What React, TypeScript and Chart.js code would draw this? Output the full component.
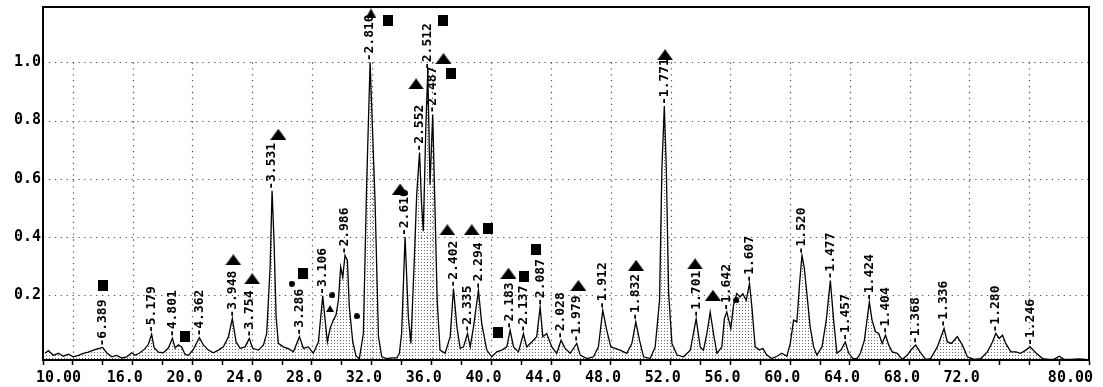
import { useEffect, useRef } from 'react';
import { Chart, registerables } from 'chart.js';

Chart.register(...registerables);

// Diffraction profile: 2θ (deg) and relative intensity
const twoTheta: number[] = [
  10.13, 10.36, 10.69, 11.03, 11.36, 11.7, 12.03, 12.37, 12.7, 13.03, 13.37, 13.7, 13.99, 14.26, 14.6, 14.93,
  15.27, 15.6, 15.93, 16.16, 16.49, 16.83, 17.05, 17.27, 17.43, 17.72, 18.05, 18.39, 18.66, 18.84, 19.06, 19.28,
  19.5, 19.73, 20.06, 20.46, 20.73, 21.07, 21.4, 21.74, 22.07, 22.41, 22.67, 22.92, 23.19, 23.52, 23.81, 24.03,
  24.41, 24.75, 24.97, 25.2, 25.33, 25.46, 25.6, 25.75, 26.09, 26.42, 26.76, 27.16, 27.43, 27.76, 28.09, 28.43,
  28.72, 28.88, 29.03, 29.21, 29.43, 29.61, 29.77, 29.92, 30.06, 30.21, 30.37, 30.5, 30.73, 30.95, 31.17, 31.44,
  31.66, 31.89, 32.22, 32.45, 32.67, 33.0, 33.34, 33.67, 33.85, 34.0, 34.23, 34.45, 34.62, 34.83, 35.01, 35.2,
  35.33, 35.45, 35.62, 35.75, 35.9, 36.08, 36.22, 36.38, 36.57, 36.91, 37.25, 37.47, 37.7, 37.92, 38.14, 38.41,
  38.59, 38.81, 39.14, 39.36, 39.7, 40.03, 40.37, 40.7, 41.04, 41.26, 41.49, 41.82, 42.15, 42.37, 42.71, 43.04,
  43.27, 43.45, 43.71, 44.05, 44.38, 44.67, 44.94, 45.28, 45.72, 45.95, 46.39, 46.84, 47.17, 47.46, 47.73, 48.0,
  48.29, 48.62, 49.07, 49.41, 49.67, 49.92, 50.19, 50.63, 50.97, 51.26, 51.42, 51.58, 51.71, 51.87, 52.09, 52.43,
  52.87, 53.32, 53.71, 53.98, 54.2, 54.43, 54.65, 54.87, 55.1, 55.43, 55.6, 55.76, 56.03, 56.21, 56.43, 56.65,
  56.83, 57.06, 57.28, 57.44, 57.66, 57.95, 58.17, 58.44, 58.78, 59.11, 59.45, 59.78, 60.01, 60.23, 60.45, 60.63,
  60.79, 60.94, 61.12, 61.34, 61.57, 61.79, 62.13, 62.42, 62.69, 62.91, 63.13, 63.4, 63.69, 63.92, 64.21, 64.48,
  64.7, 64.97, 65.3, 65.48, 65.71, 65.93, 66.16, 66.38, 66.6, 66.83, 67.17, 67.5, 67.84, 68.11, 68.4, 68.69,
  69.07, 69.4, 69.85, 70.3, 70.52, 70.79, 71.19, 71.53, 71.86, 72.31, 72.76, 73.2, 73.54, 73.76, 73.99, 74.21,
  74.43, 74.77, 75.1, 75.44, 75.77, 76.06, 76.44, 76.89, 77.33, 77.67, 78.01, 78.34, 78.79, 79.35, 79.79,
];
const intensity: number[] = [
  0.001, 0.01, -0.006, 0.001, -0.009, -0.002, -0.011, -0.006, 0.001, 0.005, 0.012, 0.017, 0.021, 0.003, -0.011, -0.006,
  -0.015, -0.011, 0.003, -0.006, 0.003, 0.017, 0.032, 0.067, 0.021, 0.005, 0.003, 0.019, 0.053, 0.019, 0.03, 0.023,
  -0.002, -0.006, 0.014, 0.055, 0.03, 0.012, 0.003, 0.012, 0.023, 0.058, 0.12, 0.04, 0.018, 0.023, 0.052, 0.018,
  0.012, 0.029, 0.069, 0.297, 0.559, 0.388, 0.126, 0.035, 0.023, 0.017, 0.006, 0.058, 0.018, 0.023, 0.001, 0.04,
  0.198, 0.115, 0.04, 0.086, 0.115, 0.132, 0.183, 0.297, 0.263, 0.337, 0.32, 0.16, 0.04, -0.009, -0.017, 0.069,
  0.582, 1.0, 0.525, 0.058, -0.011, -0.017, -0.015, -0.015, 0.001, 0.069, 0.4, 0.126, 0.035, 0.297, 0.548, 0.69,
  0.52, 0.42, 0.776, 0.97, 0.58, 0.821, 0.525, 0.183, 0.012, 0.001, 0.058, 0.223, 0.092, 0.018, 0.023, 0.069,
  0.023, 0.092, 0.217, 0.103, 0.012, -0.011, 0.006, 0.012, 0.023, 0.08, 0.023, 0.006, 0.069, 0.023, 0.04, 0.058,
  0.16, 0.058, 0.069, 0.023, 0.001, 0.046, 0.018, 0.001, 0.035, -0.005, -0.017, -0.011, 0.023, 0.149, 0.08, 0.023,
  0.018, 0.012, 0.001, 0.035, 0.109, 0.046, -0.011, -0.017, 0.023, 0.183, 0.639, 0.85, 0.639, 0.206, 0.035, -0.005,
  -0.011, 0.012, 0.12, 0.023, 0.012, 0.069, 0.143, 0.069, 0.001, 0.023, 0.12, 0.143, 0.086, 0.166, 0.206, 0.194,
  0.206, 0.183, 0.24, 0.16, 0.023, 0.012, 0.018, -0.005, -0.017, -0.009, 0.001, -0.009, 0.035, 0.115, 0.109, 0.24,
  0.337, 0.297, 0.206, 0.092, 0.023, -0.005, 0.023, 0.115, 0.251, 0.115, 0.001, 0.012, 0.04, 0.001, -0.017, -0.017,
  0.001, 0.046, 0.177, 0.115, 0.075, 0.069, 0.035, 0.063, 0.029, 0.006, 0.001, -0.02, -0.005, 0.014, 0.029, 0.006,
  -0.02, -0.017, 0.023, 0.086, 0.04, 0.035, 0.058, 0.029, -0.011, -0.02, -0.017, 0.006, 0.04, 0.069, 0.052, 0.063,
  0.035, 0.006, 0.006, 0.001, 0.012, 0.023, 0.003, -0.017, -0.02, -0.019, -0.009, -0.02, -0.02, -0.018, -0.02,
];

// Indexed peaks: d-spacing (Å) and the peak top they mark
const peakD: string[] = [
  '6.389', '5.179', '4.801', '4.362', '3.948', '3.754', '3.531', '3.286', '3.106', '2.986',
  '2.810', '2.616', '2.552', '2.512', '2.487', '2.402', '2.335', '2.294', '2.183', '2.137',
  '2.087', '2.028', '1.979', '1.912', '1.832', '1.771', '1.701', '1.642', '1.607', '1.520',
  '1.477', '1.457', '1.424', '1.404', '1.368', '1.336', '1.280', '1.246',
];
const peakTheta: number[] = [
  13.99, 17.27, 18.66, 20.46, 22.67, 23.81, 25.33, 27.16, 28.72, 30.21,
  31.89, 34.23, 35.2, 35.75, 36.08, 37.47, 38.41, 39.14, 41.26, 42.15,
  43.27, 44.67, 45.72, 47.46, 49.67, 51.58, 53.71, 55.76, 57.28, 60.79,
  62.69, 63.69, 65.3, 66.38, 68.4, 70.3, 73.76, 76.06,
];
const peakI: number[] = [
  0.021, 0.067, 0.053, 0.055, 0.12, 0.052, 0.559, 0.058, 0.198, 0.337,
  1.0, 0.4, 0.69, 0.97, 0.821, 0.223, 0.069, 0.217, 0.08, 0.069,
  0.16, 0.046, 0.035, 0.149, 0.109, 0.85, 0.12, 0.143, 0.24, 0.337,
  0.251, 0.04, 0.177, 0.063, 0.029, 0.086, 0.069, 0.023,
];

// Phase symbols: ▲ triangle, ■ square, ● dot
const markerTheta: number[] = [
  14.04, 19.5, 22.74, 24.0, 25.75, 26.65, 27.38, 29.21, 29.36, 31.0,
  31.95, 33.07, 33.9, 34.97, 36.75, 36.8, 37.31, 37.06, 38.69, 39.77,
  40.48, 41.15, 42.22, 42.98, 45.83, 49.69, 51.63, 53.64, 54.83, 56.4,
];
const markerI: number[] = [
  0.234, 0.057, 0.322, 0.257, 0.753, 0.24, 0.276, 0.155, 0.2, 0.128,
  1.168, 1.142, 0.565, 0.926, 1.142, 1.013, 0.96, 0.425, 0.425, 0.428,
  0.071, 0.276, 0.265, 0.356, 0.234, 0.303, 1.026, 0.308, 0.2, 0.183,
];
const markerKind: string[] = [
  'sq', 'sq', 'tri', 'tri', 'tri', 'dot', 'sq', 'triS', 'dot', 'dot',
  'triM', 'sq', 'tri', 'tri', 'sq', 'tri', 'sq', 'tri', 'tri', 'sq',
  'sq', 'tri', 'sq', 'sq', 'tri', 'tri', 'tri', 'tri', 'tri', 'dot',
];

// Axis ticks and labels
const tickTheta: number[] = [
  10, 12, 14, 16, 18, 20, 22, 24, 26, 28, 30, 32, 34, 36, 38, 40, 42, 44,
  46, 48, 50, 52, 54, 56, 58, 60, 62, 64, 66, 68, 70, 72, 74, 76, 78, 80,
];
const xLabelAt: number[] = [14, 18, 22, 26, 30, 34, 38, 42, 46, 50, 54, 58, 62, 66, 70];
const xLabelText: string[] = [
  '16.0', '20.0', '24.0', '28.0', '32.0', '36.0', '40.0', '44.0',
  '48.0', '52.0', '56.0', '60.0', '64.0', '68.0', '72.0',
];
const xStartText = '10.00';
const xEndText = '80.00';
const gridTheta: number[] = [12, 16, 20, 24, 28, 32, 36, 40, 44, 48, 52, 56, 60, 64, 68, 72, 76];
const yTickValues: number[] = [0.2, 0.4, 0.6, 0.8, 1.0];

const FONT = '"DejaVu Sans Mono", "Liberation Mono", monospace';

function makeMarker(kind: string): HTMLCanvasElement {
  const c = document.createElement('canvas');
  const sizes: Record<string, [number, number]> = {
    tri: [16, 11],
    triM: [11, 10],
    triS: [8, 7],
    sq: [10, 11],
    dot: [6, 6],
  };
  const [w, h] = sizes[kind];
  c.width = w;
  c.height = h;
  const g = c.getContext('2d')!;
  g.fillStyle = '#000';
  g.beginPath();
  if (kind === 'sq') {
    g.rect(0, 0, w, h);
  } else if (kind === 'dot') {
    g.arc(w / 2, h / 2, w / 2, 0, Math.PI * 2);
  } else {
    g.moveTo(0, h);
    g.lineTo(w / 2, 0);
    g.lineTo(w, h);
    g.closePath();
  }
  g.fill();
  return c;
}

const xrdDecor = {
  id: 'xrdDecor',
  beforeDatasetsDraw(chart: any) {
    const { ctx, chartArea: a, scales } = chart;
    const x = scales.x;
    const y = scales.y;
    ctx.save();
    ctx.strokeStyle = '#555';
    ctx.lineWidth = 1.2;
    ctx.setLineDash([1.3, 4.6]);
    ctx.beginPath();
    yTickValues.forEach((v) => {
      const py = Math.round(y.getPixelForValue(v)) + 0.5;
      ctx.moveTo(a.left, py);
      ctx.lineTo(a.right, py);
    });
    const top = y.getPixelForValue(1.0);
    gridTheta.forEach((t) => {
      const px = Math.round(x.getPixelForValue(t)) + 0.5;
      ctx.moveTo(px, top);
      ctx.lineTo(px, a.bottom);
    });
    ctx.stroke();
    ctx.restore();
  },
  afterDatasetsDraw(chart: any) {
    const { ctx, chartArea: a, scales } = chart;
    const x = scales.x;
    const y = scales.y;
    ctx.save();
    // plot frame
    ctx.strokeStyle = '#000';
    ctx.lineWidth = 2;
    ctx.setLineDash([]);
    ctx.strokeRect(a.left, a.top, a.right - a.left, a.bottom - a.top);

    // d-spacing labels, written upward from each peak top
    ctx.fillStyle = '#000';
    ctx.font = `bold 13px ${FONT}`;
    ctx.textAlign = 'left';
    ctx.textBaseline = 'middle';
    peakD.forEach((d, i) => {
      const px = x.getPixelForValue(peakTheta[i]);
      const py = y.getPixelForValue(peakI[i]);
      ctx.save();
      ctx.translate(px, py - 1);
      ctx.rotate(-Math.PI / 2);
      ctx.fillText('-' + d, 0, 0);
      ctx.restore();
    });

    // range end labels on the 2θ axis
    ctx.font = `bold 15px ${FONT}`;
    ctx.textBaseline = 'middle';
    ctx.textAlign = 'left';
    ctx.fillText(xStartText, x.getPixelForValue(10) - 7, a.bottom + 18);
    ctx.textAlign = 'right';
    ctx.fillText(xEndText, x.getPixelForValue(80) + 4, a.bottom + 18);
    ctx.restore();
  },
};

export default function App() {
  const ref = useRef<HTMLCanvasElement>(null);

  useEffect(() => {
    const canvas = ref.current;
    if (!canvas) return;

    const dotCell = document.createElement('canvas');
    dotCell.width = 3;
    dotCell.height = 3;
    const dg = dotCell.getContext('2d')!;
    dg.fillStyle = '#6a6a6a';
    dg.fillRect(1, 1, 1, 1);
    const stipple = canvas.getContext('2d')!.createPattern(dotCell, 'repeat');

    const markerImg: Record<string, HTMLCanvasElement> = {
      tri: makeMarker('tri'),
      triM: makeMarker('triM'),
      triS: makeMarker('triS'),
      sq: makeMarker('sq'),
      dot: makeMarker('dot'),
    };

    const profile = twoTheta.map((t, i) => ({ x: t, y: intensity[i] }));
    const markers = markerTheta.map((t, i) => ({ x: t, y: markerI[i] }));

    const tickFont = { family: FONT, size: 15, weight: 'bold' as const };

    const chart = new Chart(canvas, {
      type: 'line',
      data: {
        datasets: [
          {
            data: profile,
            borderColor: '#000',
            borderWidth: 1.3,
            pointRadius: 0,
            tension: 0,
            fill: 'start',
            backgroundColor: stipple as any,
            order: 2,
          },
          {
            type: 'scatter',
            data: markers,
            pointStyle: (c: any) => markerImg[markerKind[c.dataIndex]] as any,
            pointRadius: 6,
            showLine: false,
            order: 1,
          } as any,
        ],
      },
      options: {
        animation: false,
        responsive: true,
        maintainAspectRatio: false,
        layout: { padding: { top: 5, right: 14, left: 0, bottom: 0 } },
        plugins: { legend: { display: false }, tooltip: { enabled: false } },
        scales: {
          x: {
            type: 'linear',
            min: 10,
            max: 80,
            afterBuildTicks: (s: any) => {
              s.ticks = tickTheta.map((v) => ({ value: v }));
            },
            afterFit: (s: any) => {
              s.height = 27;
              s.paddingLeft = 0;
              s.paddingRight = 0;
            },
            grid: {
              display: true,
              drawOnChartArea: false,
              drawTicks: true,
              tickLength: 5,
              tickColor: '#000',
              tickWidth: 1.5,
            },
            border: { display: true, color: '#000', width: 2 },
            ticks: {
              autoSkip: false,
              maxRotation: 0,
              minRotation: 0,
              align: 'start',
              labelOffset: 4,
              padding: 4,
              color: '#000',
              font: tickFont,
              callback: (v: any) => {
                const i = xLabelAt.indexOf(Number(v));
                return i >= 0 ? xLabelText[i] : '';
              },
            },
          },
          y: {
            type: 'linear',
            min: -0.022,
            max: 1.19,
            afterBuildTicks: (s: any) => {
              s.ticks = yTickValues.map((v) => ({ value: v }));
            },
            afterFit: (s: any) => {
              s.width = 43;
              s.paddingTop = 0;
              s.paddingBottom = 0;
            },
            grid: { display: true, drawOnChartArea: false, drawTicks: false },
            border: { display: true, color: '#000', width: 2 },
            ticks: {
              padding: 2,
              color: '#000',
              font: tickFont,
              callback: (v: any) => Number(v).toFixed(1),
            },
          },
        },
      },
      plugins: [xrdDecor],
    });

    return () => chart.destroy();
  }, []);

  return (
    <div style={{ position: 'fixed', left: 0, top: 0, width: 1103, height: 387, background: '#fff' }}>
      <canvas ref={ref} />
    </div>
  );
}
